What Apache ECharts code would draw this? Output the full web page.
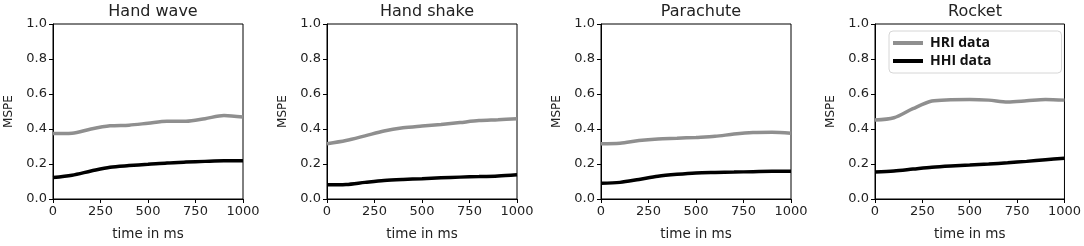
<!DOCTYPE html>
<html>
<head>
<meta charset="utf-8">
<script src="https://cdn.jsdelivr.net/npm/echarts@6/dist/echarts.min.js"></script>
<style>
  html, body { margin: 0; padding: 0; background: #fff; }
  #chart { width: 1084px; height: 246px; }
</style>
</head>
<body>
<div id="chart"></div>
<script>
// time samples (ms)
const timeMs = [0, 100, 200, 300, 400, 500, 600, 700, 800, 900, 1000]

const titles = ['Hand wave', 'Hand shake', 'Parachute', 'Rocket']

// MSPE
const hriHandWave = [0.374, 0.376, 0.400, 0.418, 0.422, 0.433, 0.444, 0.444, 0.459, 0.477, 0.468]
const hhiHandWave = [0.123, 0.136, 0.160, 0.182, 0.191, 0.198, 0.206, 0.211, 0.215, 0.218, 0.218]
const hriHandShake = [0.316, 0.334, 0.361, 0.389, 0.407, 0.417, 0.426, 0.437, 0.448, 0.453, 0.459]
const hhiHandShake = [0.081, 0.083, 0.095, 0.106, 0.112, 0.116, 0.121, 0.125, 0.128, 0.132, 0.139]
const hriParachute = [0.316, 0.319, 0.334, 0.343, 0.347, 0.352, 0.358, 0.371, 0.380, 0.382, 0.376]
const hhiParachute = [0.090, 0.095, 0.112, 0.130, 0.141, 0.149, 0.152, 0.154, 0.156, 0.158, 0.158]
const hriRocket = [0.451, 0.464, 0.516, 0.560, 0.567, 0.569, 0.565, 0.554, 0.561, 0.569, 0.565]
const hhiRocket = [0.154, 0.160, 0.171, 0.182, 0.189, 0.194, 0.200, 0.207, 0.215, 0.224, 0.233]

const hriData = [hriHandWave, hriHandShake, hriParachute, hriRocket]
const hhiData = [hhiHandWave, hhiHandShake, hhiParachute, hhiRocket]

const font = 'DejaVu Sans'
const textColor = '#222'
const gridLefts = [53, 327, 601, 875]

function pairs (vals) {
  return timeMs.map((t, i) => [t, vals[i]])
}

const chart = echarts.init(document.getElementById('chart'))

let option = {
  animation: false,
  backgroundColor: '#fff',
  title: [],
  grid: [],
  xAxis: [],
  yAxis: [],
  series: [],
  legend: {
    data: ['HRI data', 'HHI data'],
    orient: 'vertical',
    left: 889,
    top: 31,
    icon: 'rect',
    itemWidth: 30,
    itemHeight: 4,
    itemGap: 4,
    padding: [5, 70, 5, 4],
    borderColor: '#d6d6d6',
    borderWidth: 1,
    borderRadius: 4,
    backgroundColor: '#fff',
    textStyle: { fontFamily: 'Open Sans', fontWeight: 'bold', fontSize: 14, color: '#111', padding: [0, 0, 0, 2] }
  }
}

titles.forEach((name, i) => {
  option.title.push({
    text: name,
    left: gridLefts[i] + 95,
    textAlign: 'center',
    top: -1,
    textStyle: { fontFamily: font, fontWeight: 'normal', fontSize: 16, color: textColor }
  })
  option.grid.push({
    left: gridLefts[i], top: 24, width: 190, height: 179,
    show: true, borderColor: '#000', borderWidth: 1
  })
  option.xAxis.push({
    type: 'value', gridIndex: i, min: 0, max: 1000, interval: 250,
    name: 'time in ms', nameLocation: 'middle', nameGap: 28,
    nameTextStyle: { fontFamily: font, fontSize: 13.5, color: textColor },
    axisLine: { show: true, lineStyle: { color: '#000' } },
    axisTick: { show: true, length: 4, lineStyle: { color: '#000' } },
    axisLabel: { fontFamily: font, fontSize: 13, color: textColor, margin: 6,
      formatter: v => String(v) },
    splitLine: { show: false }
  })
  option.yAxis.push({
    type: 'value', gridIndex: i, min: 0, max: 1, interval: 0.2,
    name: 'MSPE', nameLocation: 'middle', nameGap: 38,
    nameTextStyle: { fontFamily: font, fontSize: 12, color: textColor },
    axisLine: { show: true, lineStyle: { color: '#000' } },
    axisTick: { show: true, length: 4, lineStyle: { color: '#000' } },
    axisLabel: { fontFamily: font, fontSize: 13, color: textColor, margin: 6,
      formatter: v => v.toFixed(1) },
    splitLine: { show: false }
  })
  option.series.push({
    name: 'HRI data', type: 'line', xAxisIndex: i, yAxisIndex: i,
    data: pairs(hriData[i]), smooth: 0.3, showSymbol: false,
    lineStyle: { color: '#8f8f8f', width: 3.5 }, itemStyle: { color: '#8f8f8f' }
  })
  option.series.push({
    name: 'HHI data', type: 'line', xAxisIndex: i, yAxisIndex: i,
    data: pairs(hhiData[i]), smooth: 0.3, showSymbol: false,
    lineStyle: { color: '#000', width: 3.5 }, itemStyle: { color: '#000' }
  })
})

chart.setOption(option)
</script>
</body>
</html>
